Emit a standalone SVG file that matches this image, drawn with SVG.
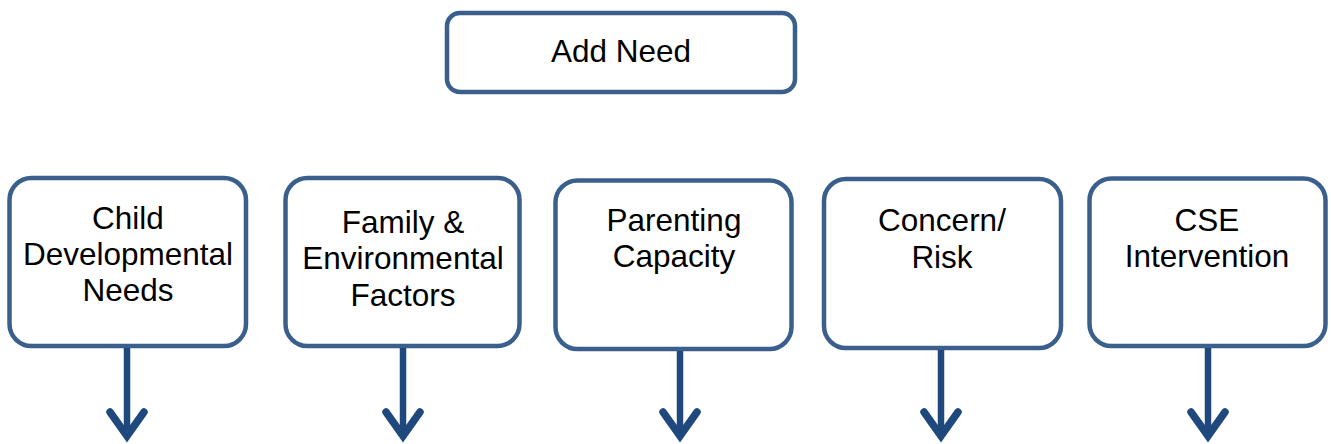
<svg xmlns="http://www.w3.org/2000/svg" width="1331" height="444" viewBox="0 0 1331 444">
  <style>
    .box { fill: #ffffff; stroke: #3b5f8d; stroke-width: 4.5; }
    .lbl { font-family: "Liberation Sans", Arial, sans-serif; font-size: 31.5px; fill: #000000; text-anchor: middle; }
    .shaft { stroke: #1f497d; stroke-width: 6.5; fill: none; }
    .head { stroke: #1f497d; stroke-width: 7.5; fill: none; stroke-linecap: round; stroke-linejoin: miter; stroke-miterlimit: 10; }
  </style>
  <rect width="1331" height="444" fill="#ffffff"/>

  <g id="add-need">
    <rect class="box" x="447" y="13" width="348" height="79" rx="13"/>
    <text class="lbl" x="621" y="62">Add Need</text>
  </g>

  <g id="child-developmental-needs">
    <rect class="box" x="9.5" y="178" width="236.5" height="168" rx="22"/>
    <text class="lbl" x="128" y="229">Child</text>
    <text class="lbl" x="128" y="265">Developmental</text>
    <text class="lbl" x="128" y="301">Needs</text>
  </g>

  <g id="family-environmental-factors">
    <rect class="box" x="285.5" y="178" width="234" height="168" rx="22"/>
    <text class="lbl" x="403" y="233">Family &amp;</text>
    <text class="lbl" x="403" y="269">Environmental</text>
    <text class="lbl" x="403" y="306">Factors</text>
  </g>

  <g id="parenting-capacity">
    <rect class="box" x="555.5" y="180.5" width="236" height="168.5" rx="22"/>
    <text class="lbl" x="674" y="231">Parenting</text>
    <text class="lbl" x="674" y="267">Capacity</text>
  </g>

  <g id="concern-risk">
    <rect class="box" x="824" y="179" width="237" height="169" rx="22"/>
    <text class="lbl" x="942" y="231">Concern/</text>
    <text class="lbl" x="942" y="268">Risk</text>
  </g>

  <g id="cse-intervention">
    <rect class="box" x="1089.5" y="178.5" width="236" height="167.5" rx="22"/>
    <text class="lbl" x="1207" y="231">CSE</text>
    <text class="lbl" x="1207" y="267">Intervention</text>
  </g>

  <g id="connectors">
    <line class="shaft" x1="127" y1="348" x2="127" y2="436"/>
    <polyline class="head" points="110,412 127,436 144,412"/>

    <line class="shaft" x1="403" y1="348" x2="403" y2="436"/>
    <polyline class="head" points="386,412 403,436 420,412"/>

    <line class="shaft" x1="680" y1="351" x2="680" y2="436"/>
    <polyline class="head" points="663,412 680,436 697,412"/>

    <line class="shaft" x1="941" y1="350" x2="941" y2="436"/>
    <polyline class="head" points="924,412 941,436 958,412"/>

    <line class="shaft" x1="1208" y1="348" x2="1208" y2="436"/>
    <polyline class="head" points="1191,412 1208,436 1225,412"/>
  </g>
</svg>
